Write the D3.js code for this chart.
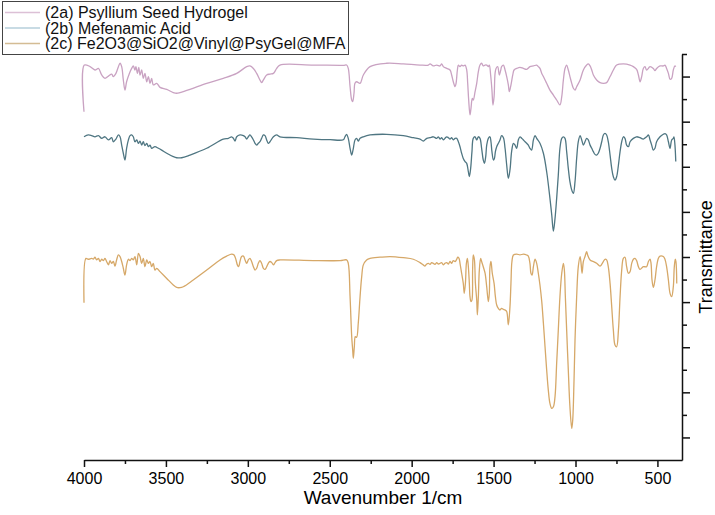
<!DOCTYPE html>
<html><head><meta charset="utf-8">
<script src="https://cdn.jsdelivr.net/npm/d3@7"></script>
<style>body{margin:0;background:#fff}svg{display:block}</style>
</head><body><svg id="c" width="715" height="515"></svg>
<script>
const seriesNames = ["(2a) Psyllium Seed Hydrogel", "(2b) Mefenamic Acid", "(2c) Fe2O3@SiO2@Vinyl@PsyGel@MFA"];
const xTickValues = [4000, 3500, 3000, 2500, 2000, 1500, 1000, 500];
const xMinorTicks = [3750, 3250, 2750, 2250, 1750, 1250, 750];
const yMajorTicks = [10, 30, 50, 70, 90, 110, 130, 150, 170];
const yMinorTicks = [20, 40, 60, 80, 100, 120, 140, 160, 180];

// [wavenumber (1/cm), transmittance (a.u., offset)]
const psyllium = [[4000,154.4],[3998,175.1],[3963,174.4],[3933,172.9],[3912,173.6],[3892,170.7],[3872,169.2],[3851,170.2],[3831,171.1],[3821,170.0],[3805,171.4],[3790,174.4],[3780,175.9],[3770,174.4],[3760,168.5],[3750,164.0],[3740,167.7],[3723,171.4],[3709,173.6],[3699,174.7],[3689,172.9],[3683,174.4],[3674,171.4],[3666,174.1],[3658,170.7],[3648,172.9],[3638,169.2],[3628,171.4],[3617,167.7],[3607,170.0],[3597,167.0],[3587,169.2],[3577,166.3],[3556,167.0],[3536,165.2],[3495,164.3],[3455,162.9],[3434,162.6],[3414,162.9],[3353,164.3],[3251,167.0],[3150,169.2],[3068,171.4],[3007,174.4],[2987,174.7],[2966,173.6],[2946,171.4],[2926,168.5],[2916,167.3],[2905,168.5],[2885,170.7],[2865,171.1],[2844,171.4],[2824,173.6],[2804,175.1],[2600,175.1],[2417,175.0],[2397,175.1],[2387,173.6],[2376,165.5],[2366,159.6],[2360,158.9],[2352,162.6],[2346,167.0],[2336,167.7],[2315,167.0],[2295,170.7],[2254,174.4],[2153,175.9],[2051,175.6],[1949,175.1],[1898,175.1],[1888,175.6],[1868,174.7],[1847,175.1],[1827,174.7],[1817,175.6],[1807,174.4],[1786,173.6],[1766,172.9],[1756,170.7],[1746,167.7],[1735,165.5],[1729,167.0],[1721,172.9],[1715,175.1],[1705,174.4],[1695,175.1],[1685,174.7],[1674,175.1],[1664,172.9],[1658,167.0],[1652,159.6],[1644,153.0],[1638,155.9],[1630,160.3],[1624,159.6],[1613,163.3],[1603,167.0],[1593,172.2],[1583,175.1],[1573,175.9],[1563,174.7],[1552,175.1],[1542,175.1],[1532,174.4],[1526,175.1],[1518,170.7],[1510,164.0],[1504,157.4],[1497,161.1],[1491,171.4],[1485,173.6],[1475,174.4],[1465,170.7],[1457,172.6],[1451,174.4],[1440,175.1],[1430,172.9],[1420,170.0],[1410,166.3],[1404,163.3],[1396,165.5],[1383,170.7],[1375,172.9],[1359,173.6],[1339,174.1],[1318,173.6],[1298,173.2],[1278,174.4],[1257,174.7],[1237,175.1],[1227,174.4],[1217,173.6],[1206,171.4],[1196,170.0],[1176,167.0],[1156,164.0],[1135,161.8],[1115,159.6],[1095,157.4],[1084,161.1],[1074,168.5],[1064,173.6],[1054,175.1],[1044,172.9],[1034,170.0],[1023,167.0],[1013,164.8],[1003,164.0],[993,165.5],[972,168.5],[952,172.9],[932,175.1],[922,175.6],[911,174.7],[901,172.9],[891,170.7],[871,168.5],[850,167.3],[830,167.0],[810,167.3],[789,170.0],[769,172.9],[749,175.1],[708,175.6],[667,175.1],[647,174.4],[627,173.2],[616,170.7],[606,167.7],[596,170.0],[586,173.6],[576,174.4],[566,172.9],[545,174.4],[525,173.6],[515,172.6],[505,173.6],[484,174.7],[464,174.7],[454,175.1],[444,173.6],[433,171.4],[423,168.8],[413,169.2],[403,172.9],[393,174.7],[388,174.4]];

const mefenamic = [[4000,143.3],[3974,144.1],[3953,143.8],[3933,143.3],[3912,143.8],[3892,142.6],[3872,143.3],[3851,141.9],[3831,142.9],[3821,141.1],[3805,142.3],[3790,144.1],[3780,143.3],[3770,139.6],[3760,136.0],[3750,133.0],[3740,138.2],[3729,141.9],[3719,143.8],[3709,144.1],[3699,143.3],[3689,141.1],[3678,141.9],[3668,140.4],[3658,141.4],[3648,139.6],[3638,141.1],[3628,139.4],[3617,140.4],[3607,138.9],[3597,139.6],[3587,138.2],[3567,138.9],[3546,138.2],[3526,137.4],[3495,136.0],[3455,134.5],[3434,134.0],[3404,134.0],[3353,135.2],[3251,138.2],[3150,142.3],[3119,142.6],[3099,143.3],[3088,142.6],[3078,141.4],[3068,143.3],[3048,144.1],[3027,143.8],[3017,143.3],[3007,142.3],[2997,143.3],[2987,144.1],[2977,143.3],[2966,141.9],[2956,140.4],[2946,139.6],[2936,140.4],[2926,141.1],[2916,142.6],[2905,144.1],[2895,143.8],[2885,141.9],[2875,140.4],[2865,141.1],[2844,143.3],[2824,144.1],[2804,143.3],[2702,142.9],[2600,142.3],[2498,142.0],[2417,142.0],[2407,143.3],[2397,144.4],[2387,142.6],[2376,138.2],[2366,135.2],[2356,138.2],[2346,141.9],[2336,142.6],[2326,141.4],[2315,142.6],[2295,143.3],[2254,144.1],[2153,144.4],[2051,143.8],[1990,142.9],[1949,142.3],[1929,141.4],[1908,142.6],[1888,142.9],[1868,143.3],[1847,142.6],[1837,143.3],[1827,142.3],[1817,142.9],[1807,141.9],[1797,142.6],[1786,143.3],[1776,142.9],[1766,142.3],[1756,142.9],[1746,141.9],[1735,142.6],[1725,142.6],[1715,141.1],[1705,138.9],[1695,136.0],[1685,133.7],[1674,132.3],[1664,131.5],[1654,127.8],[1648,125.6],[1640,129.3],[1632,136.7],[1624,142.6],[1613,143.3],[1603,141.9],[1593,143.3],[1583,142.6],[1573,138.2],[1563,133.0],[1556,131.5],[1548,134.5],[1542,139.6],[1532,142.6],[1522,143.3],[1516,141.1],[1510,136.7],[1501,133.0],[1495,133.7],[1489,136.7],[1481,138.9],[1471,140.4],[1461,141.9],[1451,143.8],[1440,142.9],[1430,138.2],[1420,130.8],[1410,124.9],[1400,128.6],[1390,136.7],[1379,140.4],[1369,139.6],[1359,138.2],[1349,141.9],[1339,143.3],[1328,142.6],[1318,141.9],[1308,141.1],[1298,140.4],[1288,139.6],[1278,138.2],[1268,137.4],[1257,141.9],[1247,143.8],[1237,142.6],[1217,140.4],[1196,136.0],[1176,127.8],[1156,116.0],[1145,108.6],[1135,101.5],[1125,107.1],[1115,116.0],[1105,126.3],[1095,138.2],[1084,142.6],[1074,143.3],[1064,142.6],[1054,136.7],[1044,129.3],[1034,123.4],[1023,119.7],[1013,118.2],[1003,123.4],[993,133.7],[983,141.1],[972,143.8],[962,141.9],[952,139.6],[942,141.1],[932,142.6],[922,141.9],[911,139.6],[901,138.2],[891,136.7],[881,135.5],[871,135.2],[861,136.0],[850,138.2],[840,141.1],[830,144.1],[820,144.8],[810,144.1],[800,141.1],[789,135.2],[779,129.3],[769,125.6],[759,124.1],[749,125.6],[738,130.8],[728,136.7],[718,141.1],[708,143.3],[698,142.6],[688,139.6],[677,138.9],[667,141.1],[647,142.6],[627,143.3],[606,142.9],[586,142.3],[566,143.3],[555,144.1],[545,141.9],[535,139.6],[525,137.4],[515,138.2],[505,141.1],[484,143.3],[464,144.4],[454,144.7],[444,144.1],[433,141.1],[423,138.2],[413,141.9],[403,142.6],[399,143.3],[393,139.6],[388,132.3]];

const composite = [[4000,69.7],[3988,89.4],[3974,89.0],[3953,89.4],[3943,89.1],[3933,89.9],[3923,88.7],[3912,89.4],[3902,88.0],[3892,89.0],[3882,88.4],[3872,89.4],[3862,88.0],[3851,86.5],[3841,88.4],[3831,87.2],[3821,88.0],[3811,86.0],[3801,88.7],[3790,90.9],[3780,90.2],[3770,88.0],[3760,85.0],[3750,82.0],[3740,86.5],[3729,89.0],[3719,88.4],[3709,89.4],[3699,88.7],[3689,90.2],[3678,86.5],[3668,91.6],[3658,90.2],[3648,87.2],[3638,89.4],[3628,85.7],[3617,88.7],[3607,87.2],[3597,88.0],[3587,85.7],[3577,87.2],[3567,84.2],[3556,85.0],[3536,83.5],[3495,80.5],[3455,77.6],[3434,76.5],[3414,76.4],[3394,76.8],[3333,79.8],[3251,84.2],[3170,88.7],[3129,90.4],[3099,91.3],[3084,90.9],[3072,88.7],[3064,86.5],[3056,85.7],[3048,88.0],[3038,90.2],[3027,90.4],[3017,88.7],[3007,87.2],[2997,88.7],[2987,89.4],[2977,88.0],[2966,85.7],[2956,84.2],[2946,85.0],[2936,87.2],[2926,88.4],[2916,87.2],[2905,85.0],[2895,84.5],[2885,85.7],[2875,87.2],[2865,88.0],[2854,87.5],[2844,86.5],[2834,87.5],[2824,88.4],[2804,88.7],[2600,88.4],[2437,88.4],[2397,88.7],[2387,87.2],[2376,72.4],[2366,54.7],[2360,48.8],[2356,45.1],[2350,50.2],[2344,54.7],[2336,54.4],[2326,60.6],[2315,72.4],[2305,81.3],[2295,86.5],[2275,88.7],[2254,89.4],[2193,89.9],[2132,90.2],[2051,89.7],[1990,89.0],[1949,87.5],[1929,86.5],[1919,86.0],[1908,86.9],[1898,87.2],[1888,86.7],[1878,87.5],[1868,87.2],[1858,86.7],[1847,87.5],[1837,86.9],[1827,87.2],[1817,87.5],[1807,86.5],[1797,87.2],[1786,87.5],[1776,86.9],[1766,88.0],[1756,87.2],[1746,88.4],[1735,88.0],[1725,89.0],[1719,89.9],[1711,89.4],[1705,87.2],[1695,82.8],[1685,78.3],[1679,73.9],[1672,78.3],[1666,87.2],[1660,89.4],[1654,85.7],[1648,78.3],[1644,72.4],[1638,70.2],[1632,70.9],[1628,84.2],[1624,90.9],[1617,88.7],[1611,78.3],[1603,70.9],[1599,64.3],[1593,72.4],[1587,84.2],[1579,89.4],[1573,88.0],[1563,85.7],[1552,82.8],[1542,76.8],[1532,70.2],[1526,73.9],[1522,85.7],[1516,88.0],[1508,82.8],[1497,78.3],[1489,72.4],[1481,68.7],[1471,67.2],[1461,66.5],[1451,67.2],[1440,66.8],[1430,66.5],[1420,65.8],[1410,59.9],[1400,68.0],[1394,78.3],[1388,88.0],[1379,90.9],[1359,91.3],[1339,90.9],[1318,91.3],[1298,90.9],[1288,90.4],[1278,87.2],[1272,82.8],[1265,82.0],[1257,85.7],[1247,89.0],[1237,87.2],[1227,82.8],[1217,77.6],[1206,70.2],[1196,60.6],[1186,50.2],[1176,39.9],[1166,31.0],[1156,25.1],[1145,22.9],[1135,23.6],[1125,28.1],[1115,42.9],[1105,57.6],[1095,72.4],[1084,82.8],[1074,87.2],[1068,84.2],[1062,72.4],[1054,57.6],[1044,39.9],[1034,23.6],[1023,14.0],[1017,17.7],[1009,35.5],[1003,53.2],[993,72.4],[983,85.7],[972,90.2],[966,87.2],[960,82.8],[952,88.0],[942,90.2],[932,92.4],[926,90.9],[911,88.7],[891,88.0],[871,87.2],[850,86.0],[830,88.0],[820,89.0],[810,88.7],[800,85.7],[789,78.3],[779,68.0],[769,57.6],[759,51.0],[749,50.2],[738,57.6],[728,72.4],[718,84.2],[708,89.4],[698,89.9],[688,85.7],[677,82.8],[667,83.5],[657,87.2],[647,89.0],[637,89.4],[627,88.4],[616,85.7],[606,84.5],[586,85.7],[566,85.7],[555,88.0],[545,89.0],[539,87.2],[533,79.8],[525,76.5],[515,79.8],[505,85.7],[494,89.4],[484,90.4],[464,90.2],[454,89.0],[444,85.7],[433,79.8],[423,73.9],[413,72.4],[403,76.8],[397,85.7],[391,89.0],[387,88.0],[382,78.3]];

const lineColors = ["#c9a2c2", "#4f7682", "#d6a868"];
const legendColors = ["#dcc0d6", "#b6cfdb", "#d4bc94"];
const FONT = "Arial, 'Liberation Sans', sans-serif";

const svg = d3.select("#c");
const x = d3.scaleLinear().domain([4000, 350]).range([84, 682]);
const y = d3.scaleLinear().domain([0, 180]).range([460, 54]);

const line = d3.line().x(d => x(d[0])).y(d => y(d[1])).curve(d3.curveCatmullRom.alpha(0.5));
[psyllium, mefenamic, composite].forEach((s, i) => {
  svg.append("path").datum(s).attr("d", line)
    .attr("fill", "none").attr("stroke", lineColors[i]).attr("stroke-width", 1.3)
    .attr("stroke-linejoin", "round");
});

// bottom axis
const gx = svg.append("g").attr("transform", "translate(0,460)");
gx.call(d3.axisBottom(x).tickValues(xTickValues).tickSize(7).tickSizeOuter(0).tickPadding(6).tickFormat(d3.format("d")));
const gxm = svg.append("g").attr("transform", "translate(0,460)");
gxm.call(d3.axisBottom(x).tickValues(xMinorTicks).tickSize(4).tickSizeOuter(0).tickFormat(""));
gxm.select(".domain").remove();
gx.selectAll("text").attr("font-family", FONT).attr("font-size", 16).attr("fill", "#000");

// right axis
const gy = svg.append("g").attr("transform", "translate(682,0)");
gy.call(d3.axisRight(y).tickValues(yMajorTicks).tickSize(8).tickSizeOuter(0).tickFormat(""));
const gym = svg.append("g").attr("transform", "translate(682,0)");
gym.call(d3.axisRight(y).tickValues(yMinorTicks).tickSize(5).tickSizeOuter(0).tickFormat(""));
gym.select(".domain").remove();

svg.selectAll(".domain, .tick line").attr("stroke", "#111").attr("stroke-width", 1.5);

// axis titles
svg.append("text").attr("x", 383).attr("y", 504).attr("text-anchor", "middle")
  .attr("font-family", FONT).attr("font-size", 19).attr("fill", "#000").text("Wavenumber 1/cm");
svg.append("text").attr("transform", "translate(712,257) rotate(-90)").attr("text-anchor", "middle")
  .attr("font-family", FONT).attr("font-size", 18).attr("fill", "#000").text("Transmittance");

// legend
const lg = svg.append("g");
lg.append("rect").attr("x", 2.5).attr("y", 1.5).attr("width", 346).attr("height", 53)
  .attr("fill", "#fff").attr("stroke", "#444").attr("stroke-width", 1);
seriesNames.forEach((n, i) => {
  const yy = 12.5 + i * 15.5;
  lg.append("line").attr("x1", 5).attr("x2", 40).attr("y1", yy).attr("y2", yy)
    .attr("stroke", legendColors[i]).attr("stroke-width", 1.3);
  lg.append("text").attr("x", 45).attr("y", yy + 5.5).attr("font-family", FONT)
    .attr("font-size", 16).attr("fill", "#111").text(n);
});
</script></body></html>
